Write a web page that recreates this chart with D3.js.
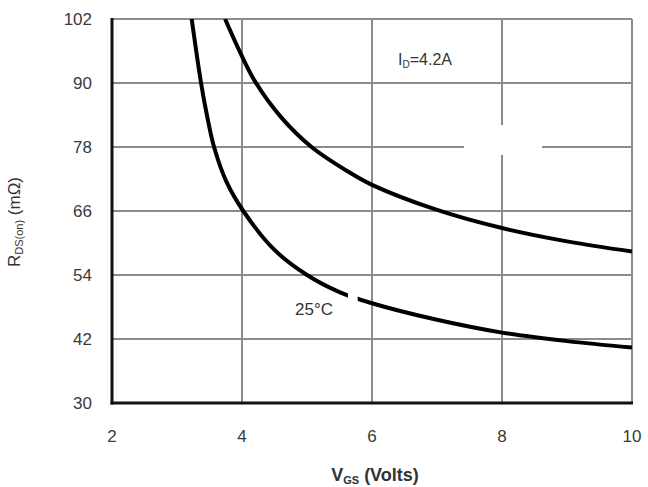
<!DOCTYPE html>
<html>
<head>
<meta charset="utf-8">
<script src="https://cdn.jsdelivr.net/npm/d3@7"></script>
<style>
  html, body { margin: 0; padding: 0; background: #fff; }
  svg { display: block; }
  text { font-family: "Liberation Sans", Arial, sans-serif; }
</style>
</head>
<body>
<svg id="chart" width="648" height="487"></svg>
<script>
// ---- data ----
const xTicks = [2, 4, 6, 8, 10];
const yTicks = [30, 42, 54, 66, 78, 90, 102];
const yTickLabels = ["30", "42", "54", "66", "78", "90", "102"];

// 25°C curve
const vgs25 = [3.226, 3.37, 3.46, 3.57, 3.76, 4.02, 4.5, 5.0, 5.5, 6.0, 7.0, 8.0, 9.0, 10.0];
const rds25 = [102, 90, 84, 78, 71.5, 66, 58.7, 54.0, 50.8, 48.7, 45.6, 43.2, 41.6, 40.4];

// upper (hot) curve
const vgsHot = [3.74, 3.95, 4.2, 4.6, 5.07, 5.63, 6.0, 7.0, 8.0, 9.0, 10.0];
const rdsHot = [102, 96.3, 90.3, 83.6, 78.0, 73.4, 70.9, 66.2, 62.8, 60.3, 58.4];

const curveLabel = "25\u00B0C";
const condLabel = "=4.2A";

// ---- layout ----
const svg = d3.select("#chart");
const L = 112, R = 632, T = 19, B = 403;
const x = d3.scaleLinear().domain([2, 10]).range([L, R]);
const y = d3.scaleLinear().domain([30, 102]).range([B, T]);

const grid = "#8c8c8c";

// gridlines
svg.append("g").selectAll("line").data(xTicks.slice(1)).join("line")
  .attr("x1", d => x(d)).attr("x2", d => x(d))
  .attr("y1", T).attr("y2", B)
  .attr("stroke", grid).attr("stroke-width", 2);
svg.append("g").selectAll("line").data(yTicks.slice(1)).join("line")
  .attr("x1", L).attr("x2", R)
  .attr("y1", d => y(d)).attr("y2", d => y(d))
  .attr("stroke", grid).attr("stroke-width", 2);

// white blotch over grid near (8, 78)
svg.append("rect")
  .attr("x", x(8) - 38).attr("y", y(78) - 22)
  .attr("width", 78).attr("height", 30)
  .attr("fill", "#fff");

// axes (left & bottom black)
svg.append("line").attr("x1", L).attr("x2", L).attr("y1", T - 1).attr("y2", B + 1.5)
  .attr("stroke", "#111").attr("stroke-width", 3);
svg.append("line").attr("x1", L - 1.5).attr("x2", R + 1).attr("y1", B).attr("y2", B)
  .attr("stroke", "#111").attr("stroke-width", 3);

// clip
svg.append("clipPath").attr("id", "clip").append("rect")
  .attr("x", L).attr("y", T).attr("width", R - L).attr("height", B - T);

const line = d3.line().x(d => x(d[0])).y(d => y(d[1])).curve(d3.curveCatmullRom.alpha(0.5));

const g = svg.append("g").attr("clip-path", "url(#clip)");
g.append("path").datum(vgsHot.map((v, i) => [v, rdsHot[i]]))
  .attr("d", line).attr("fill", "none").attr("stroke", "#000").attr("stroke-width", 4);
g.append("path").datum(vgs25.map((v, i) => [v, rds25[i]]))
  .attr("d", line).attr("fill", "none").attr("stroke", "#000").attr("stroke-width", 4);

// gap in 25C curve
svg.append("rect")
  .attr("x", x(5.63)).attr("y", y(51.8))
  .attr("width", x(5.78) - x(5.63)).attr("height", y(48) - y(51.8))
  .attr("fill", "#fff");

// tick labels
svg.append("g").selectAll("text").data(yTicks).join("text")
  .attr("x", 92).attr("y", d => y(d)).attr("dy", "0.36em")
  .attr("text-anchor", "end").attr("font-size", 17).attr("fill", "#3a3a3a")
  .text((d, i) => yTickLabels[i]);
svg.append("g").selectAll("text").data(xTicks).join("text")
  .attr("x", d => x(d)).attr("y", 442)
  .attr("text-anchor", "middle").attr("font-size", 17).attr("fill", "#3a3a3a")
  .text(d => d);

// axis titles
const xt = svg.append("text").attr("x", 375).attr("y", 481)
  .attr("text-anchor", "middle").attr("font-size", 18).attr("font-weight", "bold").attr("fill", "#333");
xt.append("tspan").text("V");
xt.append("tspan").attr("font-size", 11).attr("dy", 3).text("GS");
xt.append("tspan").attr("dy", -3).text(" (Volts)");

const yt = svg.append("text").attr("transform", "translate(20,222) rotate(-90)")
  .attr("text-anchor", "middle").attr("font-size", 17).attr("fill", "#333");
yt.append("tspan").text("R");
yt.append("tspan").attr("font-size", 11).attr("dy", 3).text("DS(on)");
yt.append("tspan").attr("dy", -3).text(" (m\u03A9)");

// annotations
svg.append("text").attr("x", 314).attr("y", 315).attr("text-anchor", "middle")
  .attr("font-size", 17).attr("fill", "#333").text(curveLabel);
const id = svg.append("text").attr("x", 398).attr("y", 65)
  .attr("font-size", 16).attr("fill", "#333");
id.append("tspan").text("I");
id.append("tspan").attr("font-size", 10).attr("dy", 3).text("D");
id.append("tspan").attr("dy", -3).text(condLabel);
</script>
</body>
</html>
